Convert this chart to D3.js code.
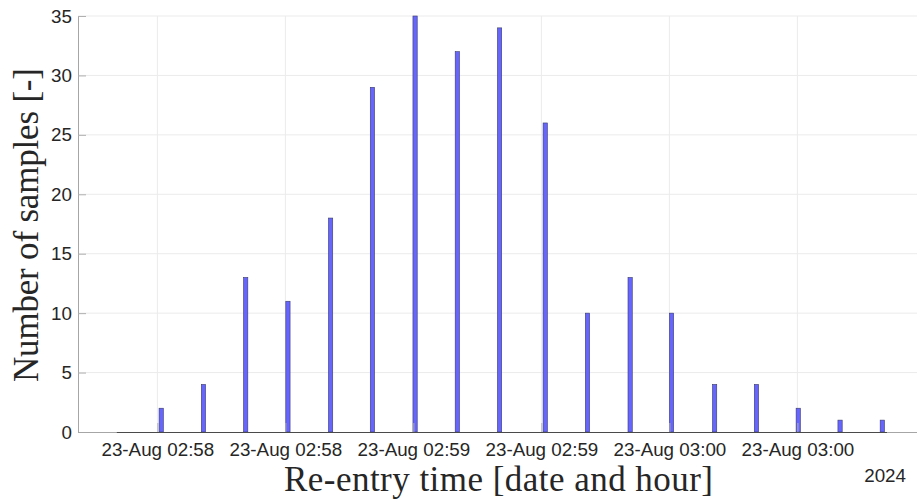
<!DOCTYPE html>
<html>
<head>
<meta charset="utf-8">
<script src="https://cdn.jsdelivr.net/npm/d3@7"></script>
<style>
  html, body { margin: 0; padding: 0; background: #fff; }
  svg { display: block; }
</style>
</head>
<body>
<svg id="chart" width="917" height="502"></svg>
<script>
// ---- data ----
const baseTime = "2024-08-23T02:58:00";
// bin start times, seconds after 02:58:00 (bins are 1 s wide)
const binStartSec = [0.4, 10.3, 20.2, 30.1, 40.1, 49.9, 59.9, 69.8, 79.7, 90.4, 100.3, 110.3, 120.0, 130.1, 139.9, 149.7, 159.5, 169.4];
const counts = [2, 4, 13, 11, 18, 29, 35, 32, 34, 26, 10, 13, 10, 4, 4, 2, 1, 1];
const binWidthSec = 1;
const histRangeSec = [-9.5, 171];          // extent of the (mostly empty) bins
const xDomainSec = [-18.6, 178.5];
const xTickSec = [0, 30, 60, 90, 120, 150];
const yTicks = [0, 5, 10, 15, 20, 25, 30, 35];
const yDomain = [0, 35];
const xLabel = "Re-entry time [date and hour]";
const yLabel = "Number of samples [-]";
const yearLabel = "2024";

// ---- setup ----
const base = new Date(baseTime);
const t = s => new Date(base.getTime() + s * 1000);
const svg = d3.select("#chart");
const L = 78, R = 919, T = 16, B = 432;

const x = d3.scaleTime().domain(xDomainSec.map(t)).range([L, R]);
const y = d3.scaleLinear().domain(yDomain).range([B, T]);
const fmt = d3.timeFormat("%d-%b %H:%M");

// grid
svg.append("g").selectAll("line").data(yTicks.filter(v => v > 0)).join("line")
  .attr("x1", L).attr("x2", R).attr("y1", d => y(d)).attr("y2", d => y(d))
  .attr("stroke", "#ebebeb").attr("stroke-width", 1);
svg.append("g").selectAll("line").data(xTickSec).join("line")
  .attr("x1", d => x(t(d))).attr("x2", d => x(t(d))).attr("y1", T).attr("y2", B)
  .attr("stroke", "#ebebeb").attr("stroke-width", 1);

// bars
svg.append("g").selectAll("rect").data(binStartSec).join("rect")
  .attr("x", d => x(t(d)))
  .attr("width", d => x(t(d + binWidthSec)) - x(t(d)))
  .attr("y", (d, i) => y(counts[i]))
  .attr("height", (d, i) => y(0) - y(counts[i]))
  .attr("fill", "#6666ff")
  .attr("stroke", "#3a3a6a")
  .attr("stroke-width", 0.6);

// y axis
const yAxis = d3.axisLeft(y).tickValues(yTicks).tickSize(-8).tickPadding(6).tickFormat(d3.format("d"));
const gy = svg.append("g").attr("transform", `translate(${L},0)`).call(yAxis);
gy.select(".domain").attr("stroke", "#a6a6a6").attr("d", `M0.5,${T}V${B}`);
gy.selectAll(".tick line").attr("stroke", "#b0b0b0");
gy.selectAll(".tick text").attr("fill", "#262626")
  .style("font-family", "'Liberation Sans', Arial, sans-serif").style("font-size", "18.8px");

// x axis
const xAxis = d3.axisBottom(x).tickValues(xTickSec.map(t)).tickSize(-9).tickPadding(11).tickFormat(fmt);
const gx = svg.append("g").attr("transform", `translate(0,${B})`).call(xAxis);
gx.select(".domain").attr("stroke", "#a6a6a6").attr("d", `M${L},0.5H${R}`);
gx.selectAll(".tick line").attr("stroke", "#b0b0b0");
gx.selectAll(".tick text").attr("fill", "#262626")
  .style("font-family", "'Liberation Sans', Arial, sans-serif").style("font-size", "18.8px");

// empty-bin outline along baseline
svg.append("line")
  .attr("x1", x(t(histRangeSec[0]))).attr("x2", x(t(histRangeSec[1])))
  .attr("y1", B + 0.5).attr("y2", B + 0.5)
  .attr("stroke", "#4a4a4a").attr("stroke-width", 1.2);

// axis labels
svg.append("text")
  .attr("x", (L + R) / 2).attr("y", 491)
  .attr("text-anchor", "middle")
  .attr("textLength", 429).attr("lengthAdjust", "spacing")
  .style("font-family", "'Liberation Serif', 'Times New Roman', serif")
  .style("font-size", "35px").attr("fill", "#262626")
  .text(xLabel);

svg.append("text")
  .attr("transform", `translate(38,${(T + B) / 2 + 1}) rotate(-90)`)
  .attr("text-anchor", "middle")
  .attr("textLength", 314).attr("lengthAdjust", "spacing")
  .style("font-family", "'Liberation Serif', 'Times New Roman', serif")
  .style("font-size", "35px").attr("fill", "#262626")
  .text(yLabel);

svg.append("text")
  .attr("x", 906).attr("y", 482).attr("text-anchor", "end")
  .style("font-family", "'Liberation Sans', Arial, sans-serif")
  .style("font-size", "18.8px").attr("fill", "#262626")
  .text(yearLabel);
</script>
</body>
</html>
